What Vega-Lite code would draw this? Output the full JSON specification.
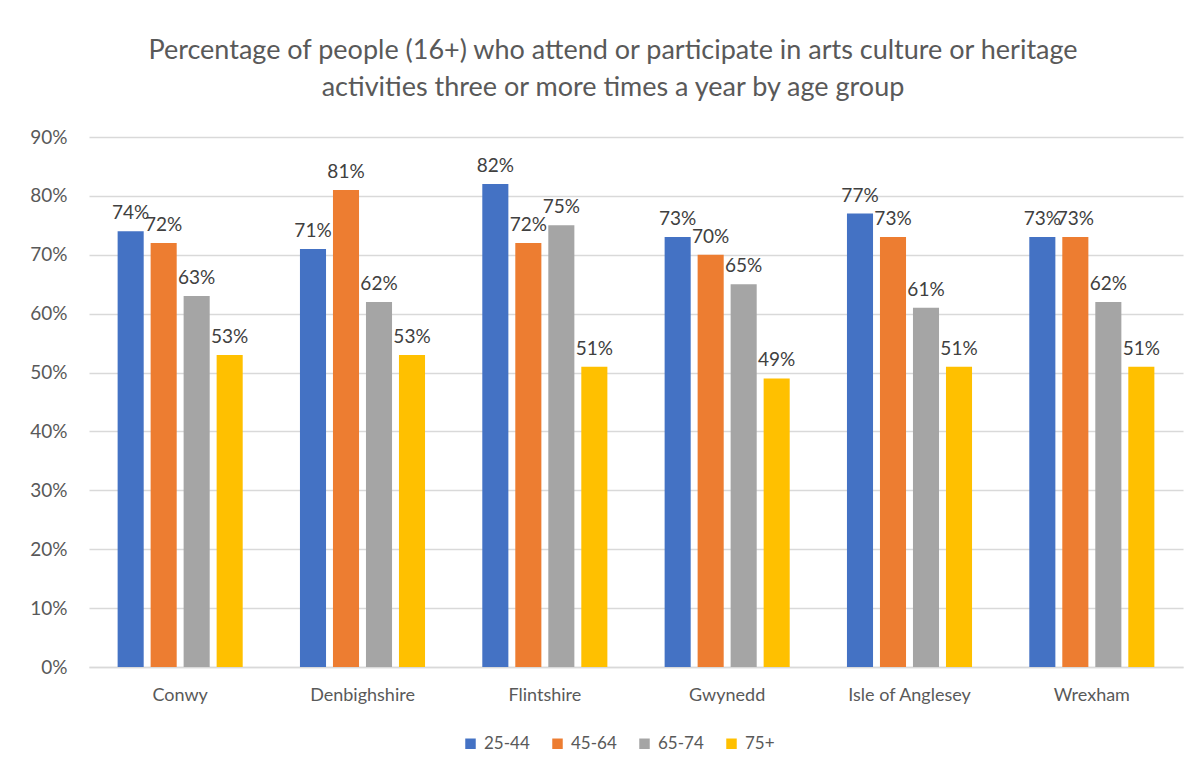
{
  "$schema": "https://vega.github.io/schema/vega-lite/v6.json",
  "autosize": {"type": "none"},
  "width": 1094,
  "height": 530,
  "padding": {"left": 89, "top": 137, "right": 17, "bottom": 106},
  "background": "white",
  "title": {
    "text": ["Percentage of people (16+) who attend or participate in arts culture or heritage", "activities three or more times a year by age group"],
    "fontSize": 27,
    "font": "Lato",
    "fontWeight": "normal",
    "color": "#595959",
    "lineHeight": 37,
    "anchor": "middle",
    "dx": -23,
    "offset": 26
  },
  "data": {
    "values": [
      {"region": "Conwy", "age": "25-44", "value": 0.74},
      {"region": "Conwy", "age": "45-64", "value": 0.72},
      {"region": "Conwy", "age": "65-74", "value": 0.63},
      {"region": "Conwy", "age": "75+", "value": 0.53},
      {"region": "Denbighshire", "age": "25-44", "value": 0.71},
      {"region": "Denbighshire", "age": "45-64", "value": 0.81},
      {"region": "Denbighshire", "age": "65-74", "value": 0.62},
      {"region": "Denbighshire", "age": "75+", "value": 0.53},
      {"region": "Flintshire", "age": "25-44", "value": 0.82},
      {"region": "Flintshire", "age": "45-64", "value": 0.72},
      {"region": "Flintshire", "age": "65-74", "value": 0.75},
      {"region": "Flintshire", "age": "75+", "value": 0.51},
      {"region": "Gwynedd", "age": "25-44", "value": 0.73},
      {"region": "Gwynedd", "age": "45-64", "value": 0.70},
      {"region": "Gwynedd", "age": "65-74", "value": 0.65},
      {"region": "Gwynedd", "age": "75+", "value": 0.49},
      {"region": "Isle of Anglesey", "age": "25-44", "value": 0.77},
      {"region": "Isle of Anglesey", "age": "45-64", "value": 0.73},
      {"region": "Isle of Anglesey", "age": "65-74", "value": 0.61},
      {"region": "Isle of Anglesey", "age": "75+", "value": 0.51},
      {"region": "Wrexham", "age": "25-44", "value": 0.73},
      {"region": "Wrexham", "age": "45-64", "value": 0.73},
      {"region": "Wrexham", "age": "65-74", "value": 0.62},
      {"region": "Wrexham", "age": "75+", "value": 0.51}
    ]
  },
  "encoding": {
    "x": {
      "field": "region", "type": "nominal", "sort": null,
      "scale": {"paddingInner": 0.314, "paddingOuter": 0.157},
      "axis": {"title": null, "labelAngle": 0, "labelFontSize": 18, "labelFont": "Lato", "labelColor": "#595959", "labelPadding": 19, "ticks": false, "domainColor": "#d9d9d9", "domainWidth": 1.5}
    },
    "xOffset": {
      "field": "age", "type": "nominal",
      "scale": {"paddingInner": 0.21, "paddingOuter": 0}
    },
    "y": {
      "field": "value", "type": "quantitative",
      "scale": {"domain": [0, 0.9], "nice": false},
      "axis": {"title": null, "format": ".0%", "values": [0, 0.1, 0.2, 0.3, 0.4, 0.5, 0.6, 0.7, 0.8, 0.9], "labelFontSize": 19, "labelFont": "Lato", "labelColor": "#595959", "labelPadding": 22, "ticks": false, "domain": false, "gridColor": "#d9d9d9", "gridWidth": 1.5}
    }
  },
  "layer": [
    {
      "mark": {"type": "bar"},
      "encoding": {
        "color": {
          "field": "age", "type": "nominal",
          "scale": {"domain": ["25-44", "45-64", "65-74", "75+"], "range": ["#4472c4", "#ed7d31", "#a5a5a5", "#ffc000"]},
          "legend": {
            "title": null, "orient": "none", "direction": "horizontal",
            "legendX": 373, "legendY": 598,
            "symbolType": "square", "symbolSize": 110, "symbolStrokeWidth": 0,
            "labelFontSize": 17, "labelFont": "Lato", "labelColor": "#595959",
            "labelOffset": 5, "columnPadding": 19
          }
        }
      }
    },
    {
      "mark": {"type": "text", "baseline": "bottom", "dy": -8, "fontSize": 19, "font": "Lato", "color": "#404040"},
      "encoding": {
        "text": {"field": "value", "type": "quantitative", "format": ".0%"}
      }
    }
  ],
  "config": {"view": {"stroke": null}}
}
